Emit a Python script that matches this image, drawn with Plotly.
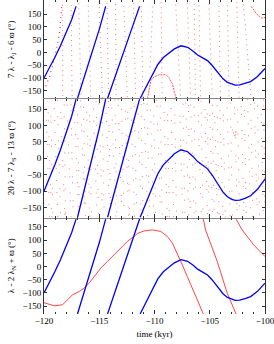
import plotly.graph_objects as go
from plotly.subplots import make_subplots

# ---------------- data ----------------
# blue curve (same in all three panels), wrapped in (-180,180]
blue_t = [-120, -119.5, -119, -118.5, -118, -117.5, -117.1, None,
          -116.97, -116, -115, -114.42, None,
          -114.25, -113, -112, -111.35, None,
          -111.3, -110.6, -110.2, -109.7, -109.2, -108.8, -108.2, -107.6, -107.0,
          -106.5, -106.1, -105.6, -105.2, -104.8, -104.3, -103.8, -103.4, -103.0,
          -102.7, -102.3, -101.8, -101.3, -100.7, -100]
blue_v = [-100, -60, -18, 27, 75, 128, 180, None,
          -180, -50, 90, 180, None,
          -180, -20, 100, 180, None,
          -180, -122, -85, -47, -20, -6, 14, 26, 20,
          5, -10, -22, -32, -50, -78, -103, -117, -125,
          -128, -127, -122, -114, -95, -63]

# bottom panel red curve: lambda - 2 lambda_N + varpi
red3_t = [-120, -119.5, -119.07, -118.32, -117.87, -117.42, -116.82, -116.37, -115.92,
          -115.47, -114.86, -114.26, -113.67, -113.06, -112.46, -111.86, -111.53,
          -110.93, -110.18, -109.43, -108.83, -108.38, -107.93, -107.48, -107.03,
          -106.58, -106.28, -105.83, -105.58, None,
          -105.58, -105.38, -104.32, -103.42, -102.62, None,
          -102.62, -102.07, -101.02, -100.0]
red3_v = [-137, -145, -149, -145, -126, -107, -95, -82, -63,
          -38, -6, 19, 44, 70, 95, 114, 126,
          135, 139, 133, 114, 89, 44, 6, -38,
          -82, -114, -158, -180, None,
          180, 139, 19, -101, -180, None,
          180, 139, 82, 38]

# top panel red: steep streaks (time at v0, time at v1)
top_s_t0 = [-118.32, -116.85, -116.00, -115.02, -113.52, -112.77, -111.90, -110.15,
            -108.08, -107.03, -105.97, -105.07, -104.17, -102.55, -101.95,
            -117.55, -114.30, -111.20, -109.40, -106.40, -103.40]
top_s_v0 = [186, 192, 183, 197, 189, 181, 194, 180,
            187, 195, 184, 191, 182, 198, 188,
            185, 193, 181, 196, 190, 184]
top_s_t1 = [-118.30, -116.65, -115.77, -114.71, -113.48, -112.46, -111.70, -110.40,
            -107.63, -106.73, -105.83, -104.77, -104.03, -102.35, -101.25,
            -117.45, -114.15, -111.05, -109.30, -106.30, -103.25]
top_s_v1 = [-180, -180, -180, -180, -180, -180, -180, -60,
            -180, -180, -180, -180, -180, -180, -180,
            -180, -180, -180, -180, -180, -180]

# top panel red: rising branch at the start
top_rise_t = [-120, -119.5, -119.07, -118.6, -118.45, -118.4]
top_rise_v = [-150, -95, -26, 72, 150, 180]
# top panel red: arch near -109 kyr
top_arch_t = [-110.63, -110.48, -110.33, -110.03, -109.58, -108.98, -108.68, -108.38, -108.17, -108.05]
top_arch_v = [-180, -150, -110, -95, -87, -87, -98, -123, -162, -180]
# top panel red: curve at upper right
top_tr_t = [-101.25, -100.75, -100.3, -100.0]
top_tr_v = [180, 150, 134, 137]

# middle panel red: scattered streaks (time/value at top, time at -180)
mid_s_t0 = [-119.85, -119.70, -119.40, -119.15, -118.80, -118.55, -118.20, -117.95,
            -117.60, -117.30, -117.00, -116.75, -116.45, -116.20, -115.90, -115.60,
            -115.30, -115.10, -114.75, -114.45, -114.20, -113.90, -113.60, -113.35,
            -113.00, -112.70, -112.45, -112.20, -111.85, -111.55, -111.25, -111.00,
            -110.70, -110.40, -110.10, -109.85, -109.50, -109.20, -108.85, -108.56,
            -108.20, -107.75, -107.45, -107.20, -106.95, -106.76, -106.45, -106.10,
            -105.80, -105.50, -105.25, -105.05, -104.80, -104.60, -104.35, -104.14,
            -103.80, -103.50, -103.15, -102.80, -102.50, -102.20, -101.90, -101.60,
            -101.30, -101.00, -100.70, -100.40, -100.15]
mid_s_v0 = [190, 213, 184, 226, 201, 195, 237, 188,
            219, 183, 207, 231, 193, 215, 186, 224,
            199, 240, 182, 211, 229, 191, 204, 235,
            187, 218, 196, 227, 183, 209, 238, 192,
            221, 185, 203, 233, 197, 214, 189, 226,
            206, 184, 239, 194, 217, 200, 230, 186,
            212, 223, 191, 205, 236, 183, 198, 220,
            188, 228, 194, 210, 185, 232, 202, 216,
            190, 225, 197, 208, 234]
mid_s_t1 = [-119.50, -119.30, -119.20, -118.75, -118.50, -118.10, -118.05, -117.55,
            -117.35, -116.85, -116.80, -116.30, -116.25, -115.85, -115.70, -115.20,
            -115.05, -114.70, -114.55, -114.05, -113.95, -113.50, -113.40, -112.95,
            -112.75, -112.35, -112.25, -111.80, -111.60, -111.20, -111.05, -110.60,
            -110.45, -110.05, -109.90, -109.45, -109.30, -108.85, -108.65, -108.25,
            -108.00, -107.45, -107.25, -106.90, -106.75, -106.40, -106.25, -105.75,
            -105.60, -105.20, -105.05, -104.75, -104.60, -104.30, -104.15, -103.80,
            -103.60, -103.15, -102.95, -102.50, -102.30, -101.90, -101.70, -101.30,
            -101.10, -100.70, -100.50, -100.15, -100.00]
mid_loop_t = [-102.95, -102.85, -102.75, -102.65, -102.6]
mid_loop_v = [88, 75, 66, 72, 85]

x_ticks = [-120, -115, -110, -105, -100]
y_ticks = [-150, -100, -50, 0, 50, 100, 150]
y_titles = ["7 λ - λ<sub>J</sub> - 6 ϖ (°)",
            "20 λ - 7 λ<sub>S</sub> - 13 ϖ (°)",
            "λ - 2 λ<sub>N</sub> + ϖ (°)"]
x_title = "time (kyr)"

# ---------------- figure ----------------
FONT = "Liberation Serif"
RED_DOTS = "rgba(255,30,30,0.6)"


def segs(t0, v0, t1, v1):
    xs, ys = [], []
    for a, b, c, d in zip(t0, v0, t1, v1):
        xs += [a, c, None]
        ys += [b, d, None]
    return xs, ys


fig = make_subplots(rows=3, cols=1, shared_xaxes=True, vertical_spacing=0,
                    row_heights=[98.5, 119, 96.5])

# top panel red
sx, sy = segs(top_s_t0, top_s_v0, top_s_t1, top_s_v1)
fig.add_trace(go.Scatter(x=sx, y=sy, mode="lines",
                         line=dict(color=RED_DOTS, width=1, dash="1px,4px")), row=1, col=1)
fig.add_trace(go.Scatter(x=top_rise_t, y=top_rise_v, mode="lines",
                         line=dict(color="rgba(230,0,0,0.8)", width=1.2, dash="1px,4px")), row=1, col=1)
fig.add_trace(go.Scatter(x=top_arch_t, y=top_arch_v, mode="lines",
                         line=dict(color="rgba(255,30,30,0.75)", width=1.0, dash="2px,1px")), row=1, col=1)
fig.add_trace(go.Scatter(x=top_tr_t, y=top_tr_v, mode="lines",
                         line=dict(color="rgba(255,30,30,0.75)", width=1.0, dash="2px,1px")), row=1, col=1)

# middle panel red
for idx, pat in [(slice(0, None, 3), "1px,11px"),
                 (slice(1, None, 3), "1px,7px,1px,15px"),
                 (slice(2, None, 3), "1px,17px,1px,5px")]:
    t0 = mid_s_t0[idx]
    v0 = mid_s_v0[idx]
    t1 = mid_s_t1[idx]
    sx, sy = segs(t0, v0, t1, [-180] * len(t1))
    fig.add_trace(go.Scatter(x=sx, y=sy, mode="lines",
                             line=dict(color=RED_DOTS, width=1, dash=pat)), row=2, col=1)
fig.add_trace(go.Scatter(x=mid_loop_t, y=mid_loop_v, mode="lines",
                         line=dict(color="rgba(255,60,60,0.6)", width=1.2, dash="1px,2px")), row=2, col=1)

# bottom panel red
fig.add_trace(go.Scatter(x=red3_t, y=red3_v, mode="lines",
                         line=dict(color="#ff3030", width=0.9)), row=3, col=1)

# blue curve in each panel
for r in (1, 2, 3):
    fig.add_trace(go.Scatter(x=blue_t, y=blue_v, mode="lines",
                             line=dict(color="#0000ff", width=1.3)), row=r, col=1)

y_ranges = [[-180, 205], [-180, 182], [-180, 186]]
for r in (1, 2, 3):
    fig.update_yaxes(row=r, col=1, range=y_ranges[r - 1], tickvals=y_ticks,
                     ticks="inside", ticklen=3, tickcolor="#333", automargin=False,
                     showline=True, linecolor="#333", linewidth=1, mirror="ticks",
                     showgrid=False, zeroline=False,
                     tickfont=dict(family=FONT, size=9, color="black"),
                     title=dict(text=y_titles[r - 1], standoff=6,
                                font=dict(family=FONT, size=9, color="black")))
    fig.update_xaxes(row=r, col=1, range=[-120, -100], tickvals=x_ticks,
                     ticks="inside", ticklen=4, tickcolor="#333", automargin=False,
                     ticklabeloverflow="allow",
                     minor=dict(ticks="inside", ticklen=2, dtick=1, tickcolor="#333"),
                     mirror="ticks", showline=(r == 2), linecolor="#888", linewidth=1,
                     showgrid=False, zeroline=False,
                     tickfont=dict(family=FONT, size=9, color="black"))
fig.update_xaxes(row=3, col=1, title=dict(text=x_title, standoff=5,
                                          font=dict(family=FONT, size=9, color="black")))

fig.update_layout(width=274, height=344, showlegend=False,
                  margin=dict(l=44, r=9, t=0, b=30),
                  plot_bgcolor="white", paper_bgcolor="white")

fig.write_html("out.html", config={"displayModeBar": False},
               post_script="document.body.style.margin='0';")
